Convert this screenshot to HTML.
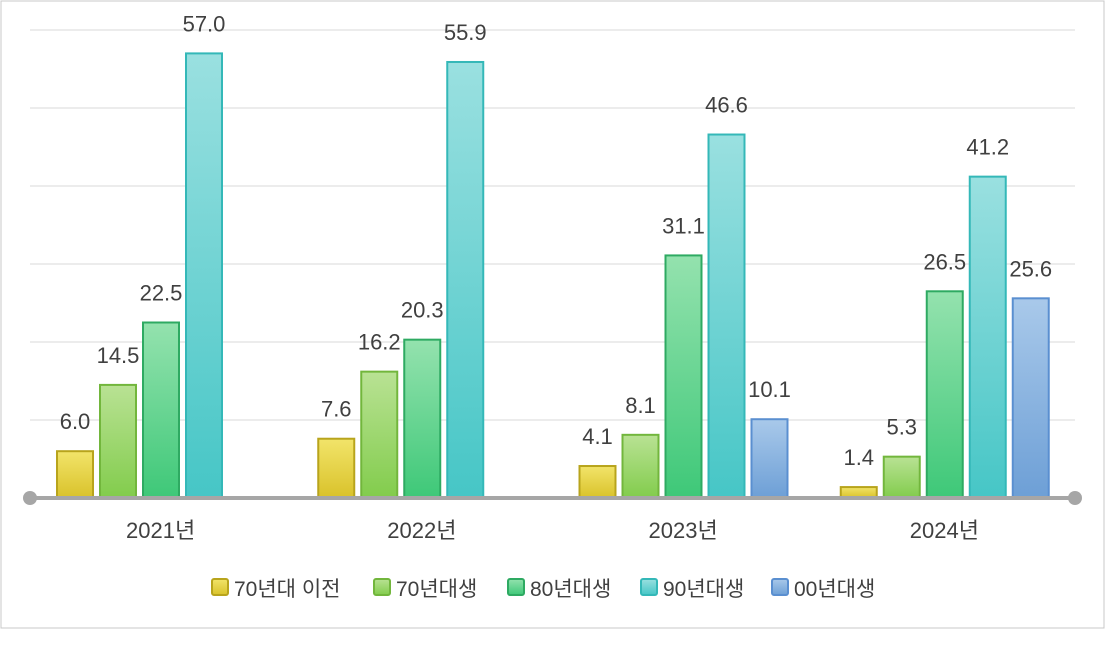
<!DOCTYPE html>
<html><head><meta charset="utf-8"><style>
body{margin:0;background:#fff;}
svg text{font-family:"Liberation Sans","Noto Sans CJK KR",sans-serif;fill:#404040;}
</style></head><body>
<svg width="1106" height="647">
<defs>
<linearGradient id="g0" x1="0" y1="0" x2="0" y2="1"><stop offset="0" stop-color="#f2e46a"/><stop offset="1" stop-color="#d9c22a"/></linearGradient>
<linearGradient id="g1" x1="0" y1="0" x2="0" y2="1"><stop offset="0" stop-color="#b9e294"/><stop offset="1" stop-color="#82cc4c"/></linearGradient>
<linearGradient id="g2" x1="0" y1="0" x2="0" y2="1"><stop offset="0" stop-color="#94e2ae"/><stop offset="1" stop-color="#3ec878"/></linearGradient>
<linearGradient id="g3" x1="0" y1="0" x2="0" y2="1"><stop offset="0" stop-color="#9ae0e0"/><stop offset="1" stop-color="#46c6c6"/></linearGradient>
<linearGradient id="g4" x1="0" y1="0" x2="0" y2="1"><stop offset="0" stop-color="#a9c9ea"/><stop offset="1" stop-color="#6d9fd6"/></linearGradient>
</defs>
<rect x="1" y="1" width="1103" height="627" fill="#fff" stroke="#c8c8c8"/>
<g id="grid"></g><g id="bars"></g><g id="legend"></g>
</svg>
<script>
const categories=["2021년","2022년","2023년","2024년"];
const seriesNames=["70년대 이전","70년대생","80년대생","90년대생","00년대생"];
const s0=[6.0,7.6,4.1,1.4];
const s1=[14.5,16.2,8.1,5.3];
const s2=[22.5,20.3,31.1,26.5];
const s3=[57.0,55.9,46.6,41.2];
const s4=[null,null,10.1,25.6];
const ticks=[0,10,20,30,40,50,60];
const series=[s0,s1,s2,s3,s4];
const strokes=["#b8a41c","#72b63c","#2eaa62","#34b8b8","#5a8fd0"];
const NS="http://www.w3.org/2000/svg";
const x0=30,x1=1075,base=498,yTop=30,ymax=60;
const y=v=>base-(v/ymax)*(base-yTop);
const gw=(x1-x0)/categories.length;
const grid=document.getElementById('grid'),bars=document.getElementById('bars'),leg=document.getElementById('legend');
function mk(tag,a){const e=document.createElementNS(NS,tag);for(const k in a)e.setAttribute(k,a[k]);return e;}
ticks.forEach(t=>{if(t===0)return;const l=mk('line',{x1:x0,x2:x1,y1:y(t),y2:y(t),stroke:'#d9d9d9','stroke-width':1});

grid.appendChild(l);});
categories.forEach((c,i)=>{
 const gx=x0+gw*i;
 series.forEach((s,j)=>{
  const v=s[i]; if(v==null)return;
  const bx=gx+27+43*j;
  const r=mk('rect',{x:bx,y:y(v),width:36,height:base-y(v),fill:'url(#g'+j+')',stroke:strokes[j],'stroke-width':2});
  
  bars.appendChild(r);
  const t=mk('text',{x:bx+18,y:y(v)-22,'text-anchor':'middle','font-size':22});t.textContent=v.toFixed(1);
  
  bars.appendChild(t);
 });
 const t=mk('text',{x:gx+gw/2,y:538,'text-anchor':'middle','font-size':22});t.textContent=c;
 
 bars.appendChild(t);
});
const ax=mk('line',{x1:x0,x2:x1,y1:base,y2:base,stroke:'#a6a6a6','stroke-width':4});

bars.appendChild(ax);
[x0,x1].forEach(cx=>{const d=mk('circle',{cx:cx,cy:base,r:7,fill:'#a6a6a6'});

bars.appendChild(d);});
const lx=[212,374,508,641,772];
seriesNames.forEach((n,j)=>{
 const r=mk('rect',{x:lx[j],y:579,width:16,height:16,fill:'url(#g'+j+')',stroke:strokes[j],'stroke-width':2,rx:2});
 
 leg.appendChild(r);
 const t=mk('text',{x:lx[j]+22,y:596,'font-size':21});t.textContent=n;
 
 leg.appendChild(t);
});
</script>
</body></html>
